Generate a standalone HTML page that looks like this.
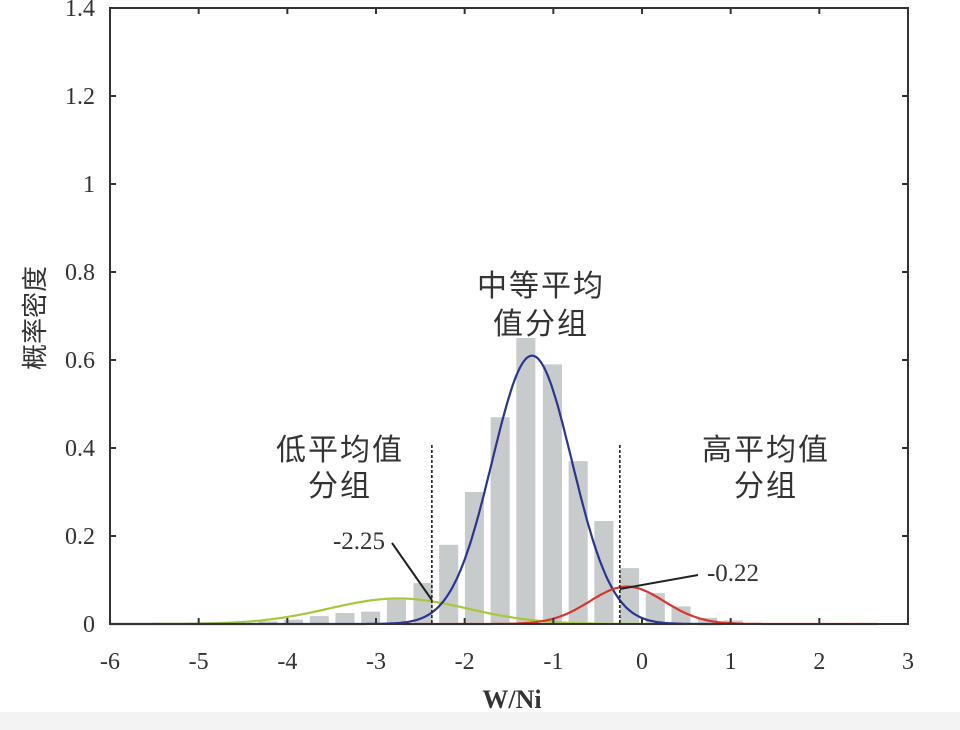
<!DOCTYPE html>
<html><head><meta charset="utf-8"><style>
body{margin:0;background:#fff;}
svg{display:block;}
text{font-family:"Liberation Serif","Noto Serif CJK SC",serif;fill:#333;}
.cjk{font-family:"Liberation Sans","Noto Sans CJK SC",sans-serif;}
</style></head><body>
<svg id="chart" width="960" height="730" viewBox="0 0 960 730" xmlns="http://www.w3.org/2000/svg">
<rect x="0" y="712" width="960" height="18" fill="#f3f3f3"/>
<g id="bars"></g>
<g id="curves"></g>
<g id="axes"></g>
<g id="annot"></g>
</svg>
<script>
const binCenters = [-4.22,-3.93,-3.64,-3.35,-3.06,-2.77,-2.47,-2.18,-1.89,-1.60,-1.31,-1.01,-0.72,-0.43,-0.14,0.15,0.44,0.74,1.03];
const binValues  = [0.006,0.01,0.018,0.025,0.028,0.055,0.093,0.18,0.30,0.47,0.65,0.59,0.37,0.234,0.127,0.07,0.04,0.014,0.008];
const fitNames  = ['low-group','mid-group','high-group'];
const fitMeans  = [-2.75,-1.24,-0.17];
const fitSds    = [0.78,0.45,0.42];
const fitAmps   = [0.058,0.61,0.085];
const fitFrom   = [-6,-6,-2.7];
const fitTo     = [0.5,0.9,2.67];
const fitColors = ['#a6c83a','#2a3591','#d6362f'];
const xTicks = [-6,-5,-4,-3,-2,-1,0,1,2,3];
const yTicks = [0,0.2,0.4,0.6,0.8,1,1.2,1.4];
const yTickLabels = ['0','0.2','0.4','0.6','0.8','1','1.2','1.4'];
const cutX = [-2.37,-0.25];
const cutLabels = ['-2.25','-0.22'];

const X0=110,X1=908,Y0=624,Y1=8;
const xs = v => X0 + (v+6)/9*(X1-X0);
const ys = v => Y0 - v/1.4*(Y0-Y1);
const NS='http://www.w3.org/2000/svg';
function mk(tag,attrs,parent,txt){const e=document.createElementNS(NS,tag);for(const k in attrs)e.setAttribute(k,attrs[k]);if(txt!==undefined)e.textContent=txt;parent.appendChild(e);return e;}

const gb=document.getElementById('bars');
const bw=0.215/9*(X1-X0);
binValues.forEach((v,i)=>{
  const r=mk('rect',{x:xs(binCenters[i])-bw/2,y:ys(v),width:bw,height:Y0-ys(v),fill:'#c8cbcb'},gb);
  
  
});

const gc=document.getElementById('curves');
fitMeans.forEach((m,i)=>{
  let d='';
  for(let x=fitFrom[i];x<=fitTo[i]+1e-9;x+=0.02){
    const y=fitAmps[i]*Math.exp(-((x-m)**2)/(2*fitSds[i]**2));
    d+=(d?'L':'M')+xs(x).toFixed(1)+','+ys(y).toFixed(1);
  }
  const p=mk('path',{d:d,fill:'none',stroke:fitColors[i],'stroke-width':2.2},gc);
  
  
});

const ga=document.getElementById('axes');
const frame=mk('rect',{x:X0,y:Y1,width:X1-X0,height:Y0-Y1,fill:'none',stroke:'#333','stroke-width':2},ga);


xTicks.forEach(t=>{
  const x=xs(t);
  mk('line',{x1:x,y1:Y0,x2:x,y2:Y0-6,stroke:'#333','stroke-width':2},ga);
  mk('line',{x1:x,y1:Y1,x2:x,y2:Y1+6,stroke:'#333','stroke-width':2},ga);
  const l=mk('text',{x:x,y:669,'text-anchor':'middle','font-size':24},ga,String(t));
  
  
});
yTicks.forEach((t,i)=>{
  const y=ys(t);
  mk('line',{x1:X0,y1:y,x2:X0+6,y2:y,stroke:'#333','stroke-width':2},ga);
  mk('line',{x1:X1,y1:y,x2:X1-6,y2:y,stroke:'#333','stroke-width':2},ga);
  const l=mk('text',{x:95,y:y+8,'text-anchor':'end','font-size':24},ga,yTickLabels[i]);
  
  
});
const xt=mk('text',{x:512,y:708,'text-anchor':'middle','font-size':26,'font-weight':'bold'},ga,'W/Ni');


const yt=mk('text',{x:0,y:0,'text-anchor':'middle','font-size':26,class:'cjk',transform:'translate(44,318) rotate(-90)'},ga,'概率密度');



const gn=document.getElementById('annot');
cutX.forEach((c,i)=>{
  const ln=mk('line',{x1:xs(c),y1:445,x2:xs(c),y2:Y0,stroke:'#222','stroke-width':1.6,'stroke-dasharray':'3,2'},gn);
  
  
});
mk('line',{x1:392,y1:543,x2:xs(cutX[0]),y2:600,stroke:'#222','stroke-width':2},gn);
mk('line',{x1:698,y1:575,x2:xs(cutX[1]),y2:589,stroke:'#222','stroke-width':2},gn);
const c1=mk('text',{x:359,y:549,'text-anchor':'middle','font-size':25},gn,cutLabels[0]);


const c2=mk('text',{x:733,y:581,'text-anchor':'middle','font-size':25},gn,cutLabels[1]);


const labels=[['中等平均',541,296,'mid-group-label'],['值分组',541,334,'mid-group-label'],['低平均值',340,460,'low-group-label'],['分组',340,496,'low-group-label'],['高平均值',766,460,'high-group-label'],['分组',766,496,'high-group-label']];
labels.forEach(a=>{
  const t=mk('text',{x:a[1],y:a[2],'text-anchor':'middle','font-size':30,class:'cjk','letter-spacing':2},gn,a[0]);
  
  
});
</script>
</body></html>
